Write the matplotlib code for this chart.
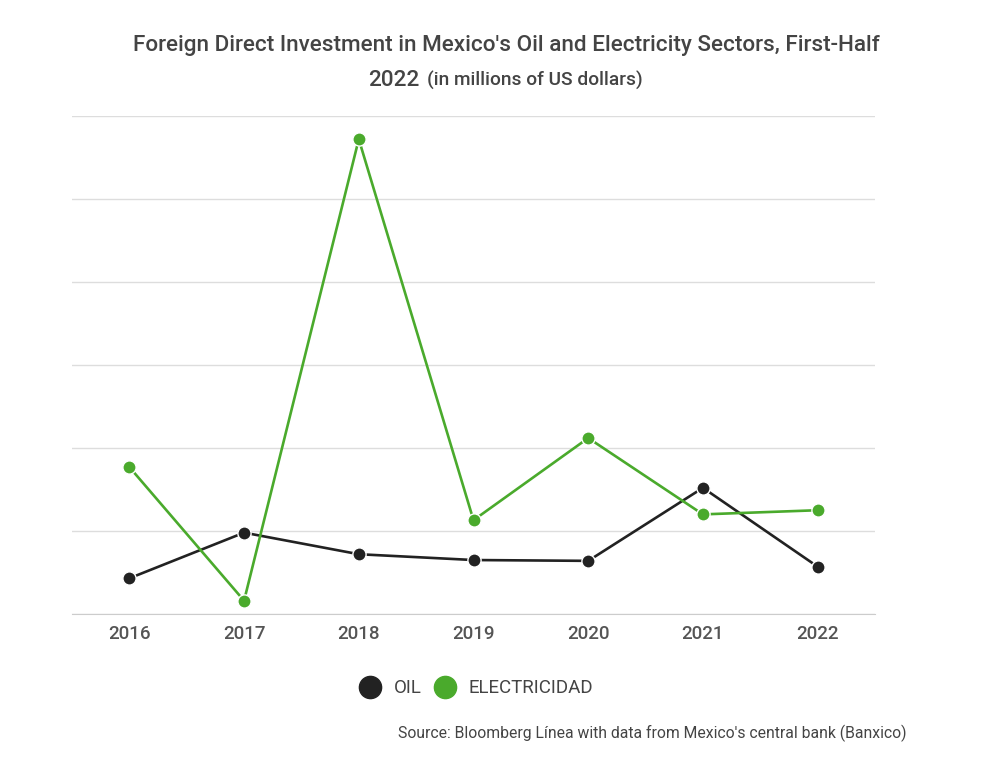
import matplotlib.pyplot as plt
from matplotlib.lines import Line2D

plt.rcParams['font.family'] = ['Roboto', 'DejaVu Sans']

# Values (millions of US dollars, estimated; no y labels shown)
years = ['2016', '2017', '2018', '2019', '2020', '2021', '2022']
oil = [86, 196, 144, 130, 128, 304, 114]
electricidad = [354, 32, 1144, 226, 424, 240, 250]

black = '#222222'
green = '#4aaa2c'

fig = plt.figure(figsize=(10, 7.58), dpi=100)
ax = fig.add_axes([0.072, 0.19, 0.803, 0.657])

x = range(len(years))
ax.plot(x, oil, color=black, linewidth=1.9, marker='o', markersize=9.5,
        markeredgecolor='white', markeredgewidth=1, zorder=3)
ax.plot(x, electricidad, color=green, linewidth=1.9, marker='o', markersize=9.5,
        markeredgecolor='white', markeredgewidth=1, zorder=4)

ax.set_xlim(-0.5, 6.5)
ax.set_ylim(0, 1200)
ax.set_yticks(range(0, 1201, 200))
ax.set_yticklabels([])
ax.set_xticks(list(x))
ax.set_xticklabels(years, fontsize=13.5, color='#555555', fontweight='medium')
ax.tick_params(axis='both', length=0, pad=8)
ax.grid(axis='y', color='#dddddd', linewidth=1)
ax.set_axisbelow(True)
for s in ['top', 'right', 'left']:
    ax.spines[s].set_visible(False)
ax.spines['bottom'].set_color('#cccccc')

# title
fig.text(0.506, 0.94, "Foreign Direct Investment in Mexico's Oil and Electricity Sectors, First-Half",
         ha='center', va='center', fontsize=16.2, color='#444444', fontweight='medium')
fig.text(0.368, 0.894, "2022", ha='left', va='center', fontsize=16.2, color='#444444',
         fontweight='medium')
fig.text(0.427, 0.894, "(in millions of US dollars)", ha='left', va='center',
         fontsize=13.8, color='#444444', fontweight='medium')

# legend
handles = [Line2D([], [], linestyle='none', marker='o', markersize=16, color=black),
           Line2D([], [], linestyle='none', marker='o', markersize=16, color=green)]
leg = fig.legend(handles, ['OIL', 'ELECTRICIDAD'], loc='center', bbox_to_anchor=(0.476, 0.092),
                 ncol=2, frameon=False, fontsize=13.5, handletextpad=0.7, columnspacing=0.6,
                 handlelength=1.2)
for t in leg.get_texts():
    t.set_color('#444444')

fig.text(0.906, 0.033, "Source: Bloomberg Línea with data from Mexico's central bank (Banxico)",
         ha='right', va='center', fontsize=11.3, color='#444444')

fig.savefig('out.png', dpi=100, facecolor='white')
